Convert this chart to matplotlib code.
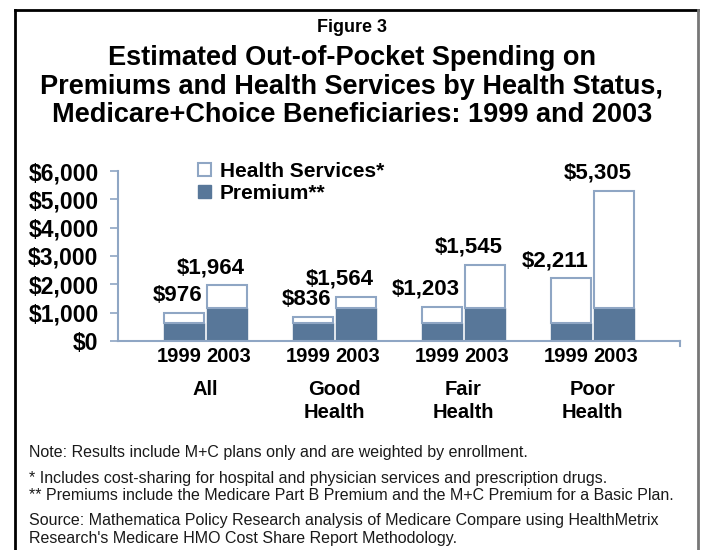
import numpy as np
import matplotlib
matplotlib.use('Agg')
import matplotlib.pyplot as plt
from matplotlib.patches import Patch
from matplotlib.lines import Line2D

# data
groups = ['All', 'Good\nHealth', 'Fair\nHealth', 'Poor\nHealth']
years = ['1999', '2003']
premium_1999 = [630, 630, 630, 630]
premium_2003 = [1175, 1175, 1175, 1175]
services_1999 = [346, 206, 573, 1581]
services_2003 = [789, 389, 1525, 4130]
labels_1999 = ['$976', '$836', '$1,203', '$2,211']
labels_2003 = ['$1,964', '$1,564', '$1,545', '$5,305']
yticks = [0, 1000, 2000, 3000, 4000, 5000, 6000]
ytick_labels = ['$0', '$1,000', '$2,000', '$3,000', '$4,000', '$5,000', '$6,000']

plt.rcParams['font.family'] = ['Liberation Sans', 'DejaVu Sans']

dark = '#587799'
light = '#8fa6c4'

fig = plt.figure(figsize=(7.04, 5.5), dpi=100)
ax = fig.add_axes([118/704, 1-341/550, (680-118)/704, 170/550])

x = np.arange(len(groups))
w = 0.31
off = 0.167

for k, (xs, prem, serv, labs) in enumerate([(x - off, premium_1999, services_1999, labels_1999),
                                            (x + off, premium_2003, services_2003, labels_2003)]):
    ax.bar(xs, prem, w, color=dark, edgecolor=dark, linewidth=1)
    ax.bar(xs, serv, w, bottom=prem, color='white', edgecolor=light, linewidth=1.5)
    tot = np.array(prem) + np.array(serv)
    for xi, t, lab in zip(xs, tot, labs):
        ax.annotate(lab, (xi + w/2, t), xytext=(-1.5, 5), textcoords='offset points',
                    ha='right', va='bottom', fontsize=16, fontweight='bold')
    # year under each bar
    for xi in xs:
        ax.annotate(years[k], (xi, 0), xycoords=('data', 'axes fraction'),
                    xytext=(-3.5 if k == 0 else 1, -11.5), textcoords='offset points',
                    ha='center', va='center', fontsize=14.5, fontweight='bold')

ax.set_xlim(-0.68, 3.68)
ax.set_ylim(0, 6000)
ax.set_yticks(yticks)
ax.set_yticklabels(ytick_labels, fontsize=16.5, fontweight='bold')
ax.tick_params(axis='y', direction='out', length=6, width=1.2, color=light, pad=8)
ax.set_xticks([])

for s in ['top', 'right']:
    ax.spines[s].set_visible(False)
for s in ['left', 'bottom']:
    ax.spines[s].set_color(light)
    ax.spines[s].set_linewidth(1.5)
ax.plot([1, 1], [0, -0.03], transform=ax.transAxes, color=light, lw=1.5, clip_on=False)

for xi, g in zip(x, groups):
    ax.annotate(g, (xi, 0), xycoords=('data', 'axes fraction'), xytext=(0, -28),
                textcoords='offset points', ha='center', va='top', fontsize=14.5,
                fontweight='bold', linespacing=1.27)

handles = [Patch(facecolor='white', edgecolor=light, linewidth=1.5),
           Patch(facecolor=dark, edgecolor=dark)]
fig.legend(handles, ['Health Services*', 'Premium**'], loc='upper left',
           bbox_to_anchor=(198/704, 1-162/550), frameon=False,
           prop={'size': 15, 'weight': 'bold'}, handlelength=0.6, handleheight=0.6,
           handletextpad=0.45, labelspacing=0.15, borderpad=0, borderaxespad=0)

# titles
fig.text(0.5, 1-27/550, 'Figure 3', ha='center', va='center', fontsize=13,
         fontweight='bold')
title = ['Estimated Out-of-Pocket Spending on',
         'Premiums and Health Services by Health Status,',
         'Medicare+Choice Beneficiaries: 1999 and 2003']
for i, t in enumerate(title):
    fig.text(0.5, 1-(58 + 28.5*i)/550, t, ha='center', va='center', fontsize=19.5,
             fontweight='bold')

notes = [(452, 'Note: Results include M+C plans only and are weighted by enrollment.'),
         (479, '* Includes cost-sharing for hospital and physician services and prescription drugs.'),
         (496, '** Premiums include the Medicare Part B Premium and the M+C Premium for a Basic Plan.'),
         (521, 'Source: Mathematica Policy Research analysis of Medicare Compare using HealthMetrix'),
         (539, "Research's Medicare HMO Cost Share Report Methodology.")]
for yy, t in notes:
    fig.text(29/704, 1-yy/550, t, ha='left', va='center', fontsize=11.5, color='#1a1a1a')

# frame around the figure
fig.add_artist(Line2D([15/704, 15/704], [0, 1-10/550], color='black', lw=2))
fig.add_artist(Line2D([15/704, 698/704], [1-10/550, 1-10/550], color='black', lw=2))
fig.add_artist(Line2D([698/704, 698/704], [0, 1-10/550], color='#777777', lw=2))

fig.savefig('out.png', dpi=100)
